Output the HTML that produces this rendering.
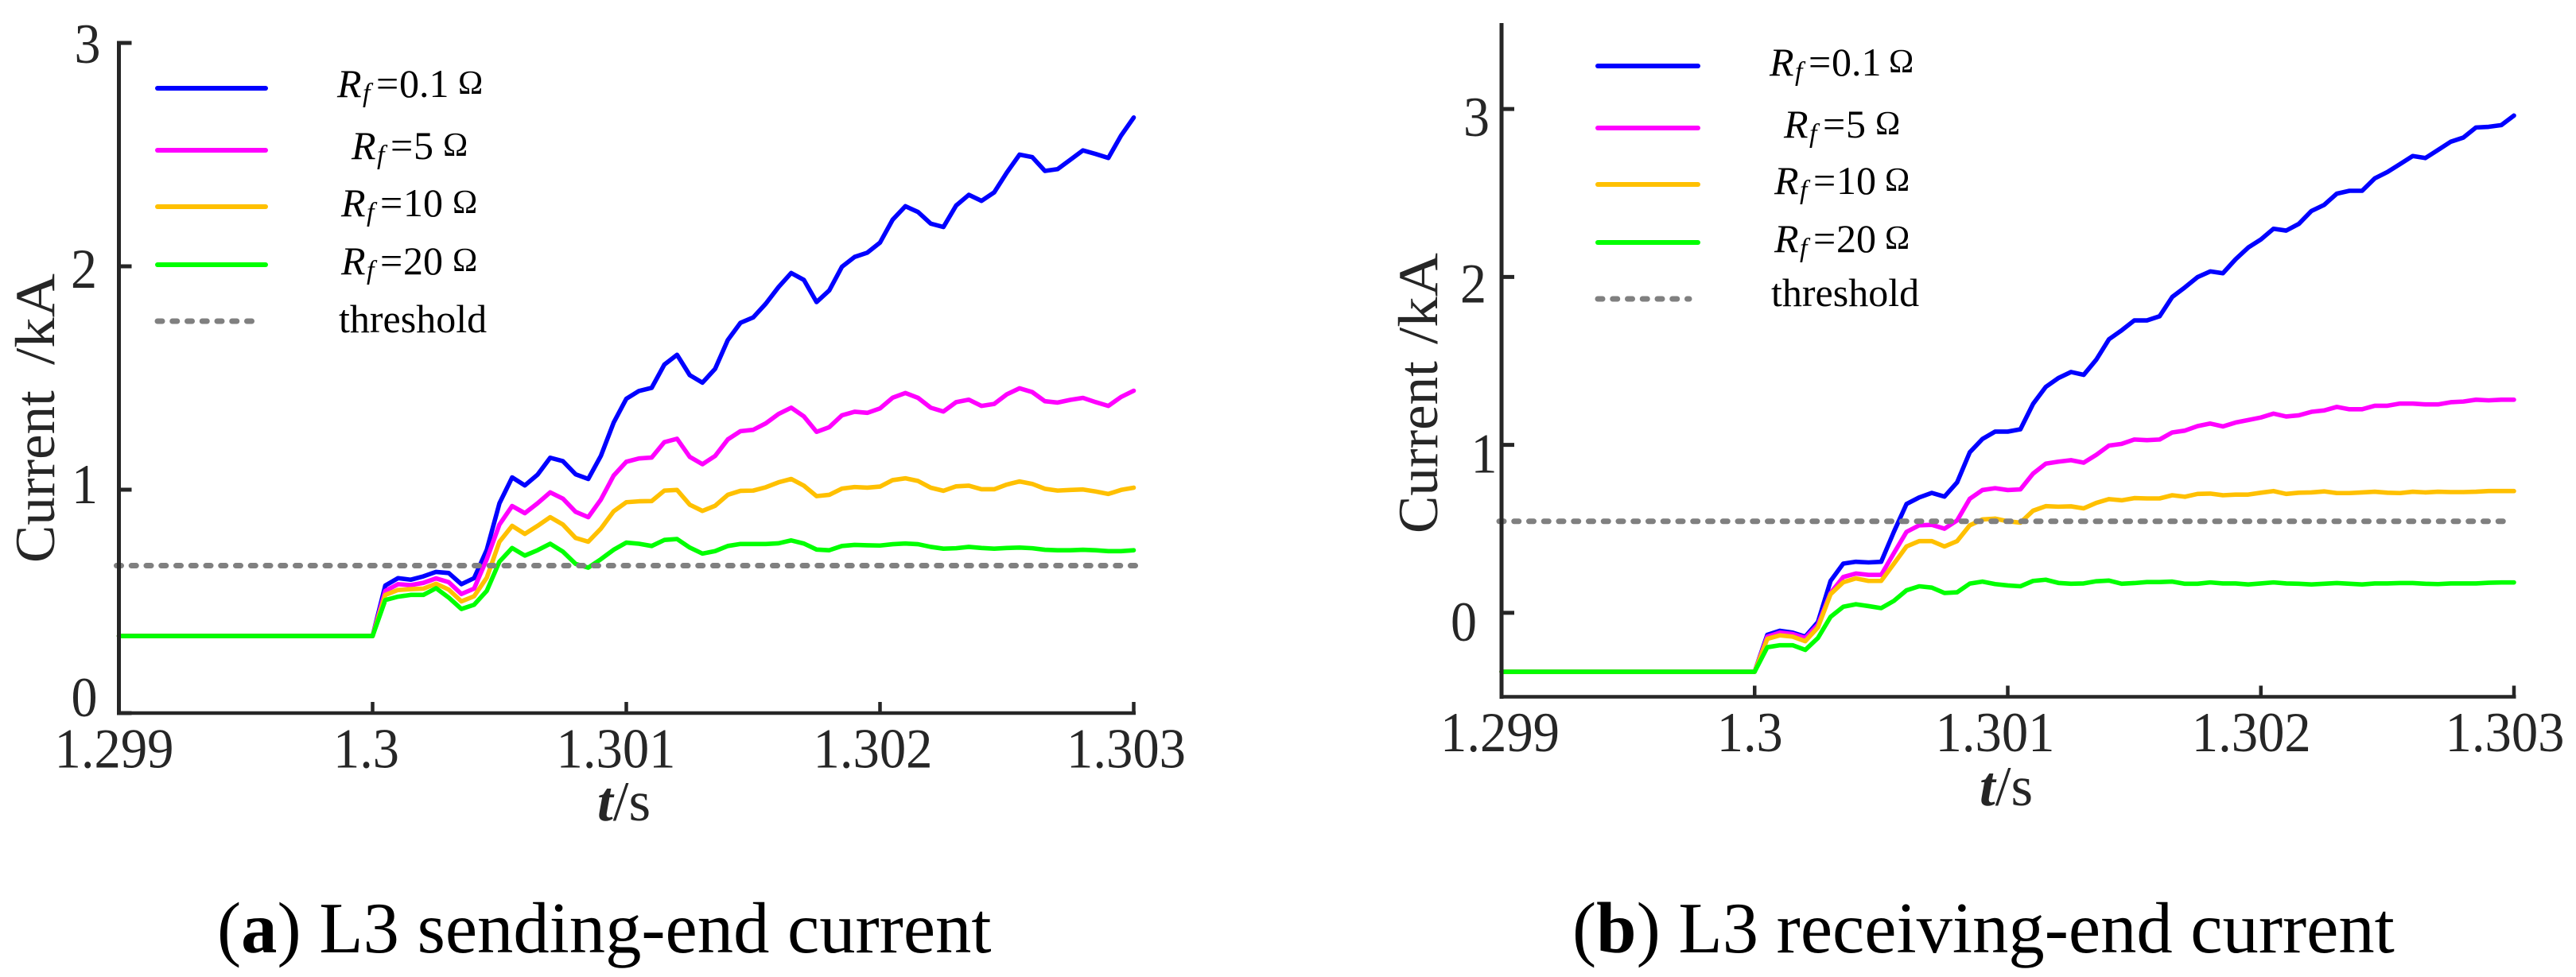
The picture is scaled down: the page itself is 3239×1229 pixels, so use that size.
<!DOCTYPE html>
<html lang="en">
<head>
<meta charset="utf-8">
<title>L3 sending-end and receiving-end current</title>
<style>
html,body{margin:0;padding:0;background:#fff;}
svg{display:block;}
text{font-family:"Liberation Serif","Times New Roman",serif;}
.axis-text{fill:#262626;font-size:71px;}
.legend-text{fill:#000;font-size:50px;}
.caption{fill:#000;}
</style>
</head>
<body>
<svg id="figure" xmlns="http://www.w3.org/2000/svg" width="3239" height="1229" viewBox="0 0 3239 1229">
  <rect x="0" y="0" width="3239" height="1229" fill="#ffffff"/>
  <g id="panel-a"></g>
  <g id="panel-b"></g>
  <text class="caption" x="273" y="1198" font-size="90.6">(<tspan font-weight="bold">a</tspan>) L3 sending-end current</text>
  <text class="caption" x="1977" y="1198" font-size="90.6">(<tspan font-weight="bold">b</tspan>) L3 receiving-end current</text>
</svg>
<script>
// Shared sample times (s)
const sampleTimes = [
1.299,1.29905,1.2991,1.29915,1.2992,1.29925,1.2993,1.29935,1.2994,1.29945,1.2995,1.29955,1.2996,1.29965,1.2997,1.29975,1.2998,1.29985,1.2999,1.29995,
1.3,1.30005,1.3001,1.30015,1.3002,1.30025,1.3003,1.30035,1.3004,1.30045,1.3005,1.30055,1.3006,1.30065,1.3007,1.30075,1.3008,1.30085,1.3009,1.30095,
1.301,1.30105,1.3011,1.30115,1.3012,1.30125,1.3013,1.30135,1.3014,1.30145,1.3015,1.30155,1.3016,1.30165,1.3017,1.30175,1.3018,1.30185,1.3019,1.30195,
1.302,1.30205,1.3021,1.30215,1.3022,1.30225,1.3023,1.30235,1.3024,1.30245,1.3025,1.30255,1.3026,1.30265,1.3027,1.30275,1.3028,1.30285,1.3029,1.30295,
1.303];
const xTickValues = [1.299, 1.3, 1.301, 1.302, 1.303];
const xTickLabels = ["1.299", "1.3", "1.301", "1.302", "1.303"];
const legendResistance = ["0.1", "5", "10", "20"];

// Panel (a) sending-end current (kA)
const sendingBlue = [
0.345,0.345,0.345,0.345,0.345,0.345,0.345,0.345,0.345,0.345,0.345,0.345,0.345,0.345,0.345,0.345,0.345,0.345,0.345,0.345,
0.345,0.571,0.604,0.597,0.612,0.632,0.627,0.577,0.604,0.731,0.939,1.055,1.019,1.067,1.143,1.128,1.069,1.048,1.152,1.300,1.407,1.442,
1.456,1.560,1.604,1.513,1.479,1.541,1.670,1.747,1.771,1.833,1.907,1.970,1.939,1.840,1.892,1.998,2.042,2.061,2.106,2.209,2.269,2.243,2.191,2.176,2.272,2.320,2.293,2.331,2.420,2.500,2.489,2.427,2.435,2.477,2.519,2.503,2.485,2.585,2.666];
const sendingMagenta = [
0.345,0.345,0.345,0.345,0.345,0.345,0.345,0.345,0.345,0.345,0.345,0.345,0.345,0.345,0.345,0.345,0.345,0.345,0.345,0.345,
0.345,0.547,0.577,0.573,0.583,0.603,0.586,0.533,0.557,0.689,0.844,0.927,0.895,0.939,0.988,0.960,0.901,0.877,0.956,1.063,1.125,1.140,
1.144,1.213,1.228,1.147,1.114,1.151,1.225,1.262,1.268,1.297,1.339,1.367,1.328,1.259,1.280,1.333,1.349,1.344,1.364,1.412,1.433,1.411,1.367,1.350,1.392,1.403,1.375,1.384,1.427,1.454,1.437,1.396,1.390,1.402,1.411,1.392,1.375,1.415,1.443];
const sendingOrange = [
0.345,0.345,0.345,0.345,0.345,0.345,0.345,0.345,0.345,0.345,0.345,0.345,0.345,0.345,0.345,0.345,0.345,0.345,0.345,0.345,
0.345,0.529,0.551,0.555,0.557,0.579,0.553,0.500,0.523,0.606,0.767,0.838,0.802,0.838,0.877,0.844,0.784,0.767,0.826,0.903,0.944,0.948,
0.949,0.996,0.999,0.933,0.905,0.928,0.977,0.995,0.996,1.011,1.033,1.048,1.018,0.971,0.977,1.005,1.012,1.009,1.014,1.043,1.051,1.039,1.009,0.995,1.015,1.018,1.002,1.002,1.023,1.037,1.026,1.004,0.996,0.999,1.001,0.992,0.981,0.999,1.009];
const sendingGreen = [
0.345,0.345,0.345,0.345,0.345,0.345,0.345,0.345,0.345,0.345,0.345,0.345,0.345,0.345,0.345,0.345,0.345,0.345,0.345,0.345,
0.345,0.506,0.521,0.529,0.529,0.559,0.517,0.466,0.485,0.547,0.678,0.739,0.705,0.729,0.758,0.723,0.668,0.651,0.689,0.731,0.763,0.758,
0.748,0.775,0.779,0.741,0.714,0.725,0.748,0.757,0.757,0.757,0.760,0.773,0.759,0.732,0.729,0.748,0.753,0.751,0.750,0.756,0.759,0.756,0.744,0.736,0.738,0.744,0.739,0.736,0.739,0.741,0.738,0.731,0.729,0.729,0.731,0.729,0.725,0.725,0.729];
const sendingThreshold = 0.66;
const sendingYTicks = [0, 1, 2, 3];

// Panel (b) receiving-end current (kA)
const receivingBlue = [
-0.351,-0.351,-0.351,-0.351,-0.351,-0.351,-0.351,-0.351,-0.351,-0.351,-0.351,-0.351,-0.351,-0.351,-0.351,-0.351,-0.351,-0.351,-0.351,-0.351,
-0.351,-0.131,-0.107,-0.118,-0.142,-0.055,0.190,0.293,0.304,0.300,0.304,0.482,0.648,0.687,0.714,0.692,0.777,0.956,1.035,1.079,1.079,1.093,
1.244,1.345,1.398,1.434,1.417,1.508,1.629,1.682,1.741,1.741,1.766,1.881,1.938,1.999,2.033,2.022,2.105,2.175,2.223,2.287,2.276,2.316,2.393,2.429,2.496,2.513,2.513,2.587,2.625,2.672,2.720,2.708,2.756,2.805,2.830,2.890,2.894,2.904,2.961];
const receivingMagenta = [
-0.351,-0.351,-0.351,-0.351,-0.351,-0.351,-0.351,-0.351,-0.351,-0.351,-0.351,-0.351,-0.351,-0.351,-0.351,-0.351,-0.351,-0.351,-0.351,-0.351,
-0.351,-0.142,-0.118,-0.126,-0.150,-0.071,0.118,0.213,0.234,0.226,0.226,0.355,0.482,0.521,0.524,0.501,0.550,0.679,0.731,0.742,0.731,0.735,0.829,0.888,0.900,
0.909,0.894,0.941,0.996,1.006,1.032,1.028,1.032,1.074,1.085,1.112,1.127,1.110,1.133,1.148,1.163,1.186,1.169,1.176,1.197,1.205,1.226,1.212,1.212,1.233,1.233,1.246,1.246,1.241,1.241,1.254,1.258,1.269,1.265,1.269,1.269];
const receivingOrange = [
-0.351,-0.351,-0.351,-0.351,-0.351,-0.351,-0.351,-0.351,-0.351,-0.351,-0.351,-0.351,-0.351,-0.351,-0.351,-0.351,-0.351,-0.351,-0.351,-0.351,
-0.351,-0.155,-0.134,-0.142,-0.169,-0.087,0.111,0.182,0.205,0.190,0.190,0.292,0.395,0.427,0.427,0.395,0.427,0.521,0.556,0.561,0.545,0.537,0.608,0.635,0.632,
0.634,0.622,0.655,0.677,0.670,0.683,0.681,0.681,0.700,0.691,0.708,0.710,0.700,0.704,0.704,0.715,0.725,0.708,0.715,0.717,0.723,0.713,0.713,0.717,0.721,0.715,0.713,0.721,0.717,0.721,0.719,0.719,0.721,0.725,0.725,0.725];
const receivingGreen = [
-0.351,-0.351,-0.351,-0.351,-0.351,-0.351,-0.351,-0.351,-0.351,-0.351,-0.351,-0.351,-0.351,-0.351,-0.351,-0.351,-0.351,-0.351,-0.351,-0.351,
-0.351,-0.205,-0.193,-0.193,-0.221,-0.150,-0.024,0.036,0.051,0.040,0.028,0.071,0.134,0.158,0.150,0.118,0.122,0.174,0.186,0.171,0.163,0.158,0.190,0.197,0.178,
0.173,0.175,0.188,0.192,0.173,0.177,0.183,0.183,0.186,0.173,0.173,0.181,0.175,0.175,0.169,0.175,0.181,0.175,0.173,0.169,0.173,0.177,0.173,0.169,0.175,0.175,0.177,0.177,0.173,0.171,0.175,0.175,0.175,0.179,0.181,0.181];
const receivingThreshold = 0.545;
const receivingYTicks = [0, 1, 2, 3];

const seriesColors = ["#0000ff", "#ff00ff", "#ffc000", "#00ff00"];
const NS = "http://www.w3.org/2000/svg";
const AXIS = "#262626";

function make(tag, attrs, parent) {
  const el = document.createElementNS(NS, tag);
  for (const k in attrs) el.setAttribute(k, attrs[k]);
  parent.appendChild(el);
  return el;
}
function scale(d0, d1, r0, r1) {
  return v => r0 + (v - d0) * (r1 - r0) / (d1 - d0);
}

function drawPanel(root, cfg) {
  const x = scale(1.299, 1.303, cfg.xRange[0], cfg.xRange[1]);
  const y = scale(cfg.yDomain[0], cfg.yDomain[1], cfg.yRange[0], cfg.yRange[1]);

  cfg.series.forEach((values, i) => {
    const d = values.map((v, j) => (j ? "L" : "M") + x(sampleTimes[j]).toFixed(2) + " " + y(v).toFixed(2)).join("");
    const line = make("path", {d: d, fill: "none", stroke: seriesColors[i], "stroke-width": 5.6, "stroke-linejoin": "round", "stroke-linecap": "round"}, root);
    
    
  });

  const thr = make("line", {x1: x(1.299) - 3, x2: x(1.303) + cfg.thresholdEndPad, y1: y(cfg.threshold), y2: y(cfg.threshold), stroke: "#808080", "stroke-width": 7, "stroke-linecap": "round", "stroke-dasharray": "6 12.75"}, root);
  
  

  const yAxis = make("line", {x1: x(1.299), x2: x(1.299), y1: cfg.axisTop, y2: y(cfg.yDomain[0]) + 2.5, stroke: AXIS, "stroke-width": 5}, root);
  
  

  const xAxis = make("line", {x1: x(1.299) - 2.5, x2: x(1.303) + 2.5, y1: y(cfg.yDomain[0]), y2: y(cfg.yDomain[0]), stroke: AXIS, "stroke-width": 4.6}, root);
  
  

  xTickValues.forEach((t, i) => {
    const tick = make("line", {x1: x(t), x2: x(t), y1: y(cfg.yDomain[0]), y2: y(cfg.yDomain[0]) - 14, stroke: AXIS, "stroke-width": 4.5}, root);
    
    
    const lab = make("text", {class: "axis-text", x: x(t) + cfg.xLabelNudge[i], y: y(cfg.yDomain[0]) + 68.5, "text-anchor": "middle", textLength: xTickLabels[i].length > 3 ? 150 : 83, lengthAdjust: "spacingAndGlyphs"}, root);
    
    
    lab.textContent = xTickLabels[i];
  });

  cfg.yTicks.forEach((v, i) => {
    const tick = make("line", {x1: x(1.299), x2: x(1.299) + 16, y1: y(v), y2: y(v), stroke: AXIS, "stroke-width": 5}, root);
    
    
    const lab = make("text", {class: "axis-text", x: cfg.yLabelX[i], y: y(v) + cfg.yLabelDy[i], textLength: 33, lengthAdjust: "spacingAndGlyphs"}, root);
    
    
    lab.textContent = String(v);
  });

  const yTitle = make("text", {class: "axis-text", transform: "translate(" + cfg.yTitle.x + " " + cfg.yTitle.startY + ") rotate(-90)"}, root);
  
  
  yTitle.textContent = "Current";
  const yUnit = make("text", {class: "axis-text", textLength: cfg.yTitle.unitLen, lengthAdjust: "spacingAndGlyphs", transform: "translate(" + cfg.yTitle.x + " " + cfg.yTitle.unitY + ") rotate(-90)"}, root);
  
  
  yUnit.textContent = "/kA";

  const xTitle = make("text", {class: "axis-text", x: cfg.xTitle.x, y: cfg.xTitle.y}, root);
  
  
  const tSpan = make("tspan", {"font-style": "italic", "font-weight": "bold"}, xTitle);
  tSpan.textContent = "t";
  const sSpan = make("tspan", {}, xTitle);
  sSpan.textContent = "/s";

  legendResistance.forEach((r, i) => {
    const key = make("line", {x1: cfg.legend.x1, x2: cfg.legend.x2, y1: cfg.legend.lineY[i], y2: cfg.legend.lineY[i], stroke: seriesColors[i], "stroke-width": 6, "stroke-linecap": "round"}, root);
    
    
    const S = cfg.legend.textX[i];
    const B = cfg.legend.textY[i];
    const txt = make("text", {class: "legend-text", x: S, y: B}, root);
    
    
    const a = make("tspan", {x: S, y: B, "font-style": "italic"}, txt);
    a.textContent = "R";
    const b = make("tspan", {x: S + 32, y: B + 6, "font-style": "italic", "font-size": 34}, txt);
    b.textContent = "f";
    const c = make("tspan", {x: S + 49, y: B}, txt);
    c.textContent = "=" ;
    const d = make("tspan", {x: S + 78, y: B}, txt);
    d.textContent = r;
    const e = make("tspan", {x: S + cfg.legend.omegaDx[i], y: B - 4, "font-size": 42}, txt);
    e.textContent = "\u03A9";
  });

  const thrKey = make("line", {x1: cfg.legend.x1, x2: cfg.legend.thrEnd, y1: cfg.legend.lineY[4], y2: cfg.legend.lineY[4], stroke: "#808080", "stroke-width": 7, "stroke-linecap": "round", "stroke-dasharray": "6 12.75"}, root);
  
  
  const thrText = make("text", {class: "legend-text", x: cfg.legend.thrTextX, y: cfg.legend.textY[4]}, root);
  
  
  thrText.textContent = "threshold";
}

drawPanel(document.getElementById("panel-a"), {
  series: [sendingBlue, sendingMagenta, sendingOrange, sendingGreen],
  threshold: sendingThreshold,
  yTicks: sendingYTicks,
  xRange: [149.5, 1425.5],
  yDomain: [0, 3],
  yRange: [897, 54],
  axisTop: 51.5,
  thresholdEndPad: 6,
  xLabelNudge: [-6, -8, -13, -9, -9.5],
  yLabelX: [89.5, 90, 89, 93.5],
  yLabelDy: [4, 17, 27, 25],
  yTitle: {x: 68, startY: 708, unitY: 459, unitLen: 115},
  xTitle: {x: 751, y: 1032},
  legend: {
    x1: 198, x2: 334, thrEnd: 323,
    lineY: [111, 189, 260, 333, 404],
    textX: [424, 442, 429, 429],
    textY: [122, 200, 272, 345, 418],
    omegaDx: [152, 115, 140, 140],
    thrTextX: 426
  }
});

drawPanel(document.getElementById("panel-b"), {
  series: [receivingBlue, receivingMagenta, receivingOrange, receivingGreen],
  threshold: receivingThreshold,
  yTicks: receivingYTicks,
  xRange: [1888, 3161],
  yDomain: [-0.5, 3.5],
  yRange: [876.5, 31.5],
  axisTop: 29,
  thresholdEndPad: -7,
  xLabelNudge: [-2, -6, -16, -12, -11.5],
  yLabelX: [1824, 1849.5, 1836, 1840],
  yLabelDy: [35, 35, 32, 34],
  yTitle: {x: 1807, startY: 671, unitY: 433, unitLen: 115},
  xTitle: {x: 2489, y: 1013},
  legend: {
    x1: 2009, x2: 2135, thrEnd: 2124,
    lineY: [83, 161, 232, 305, 376],
    textX: [2225, 2243, 2231, 2231],
    textY: [95, 173, 244, 317, 385],
    omegaDx: [150, 115, 139, 139],
    thrTextX: 2227
  }
});
</script>
</body>
</html>
